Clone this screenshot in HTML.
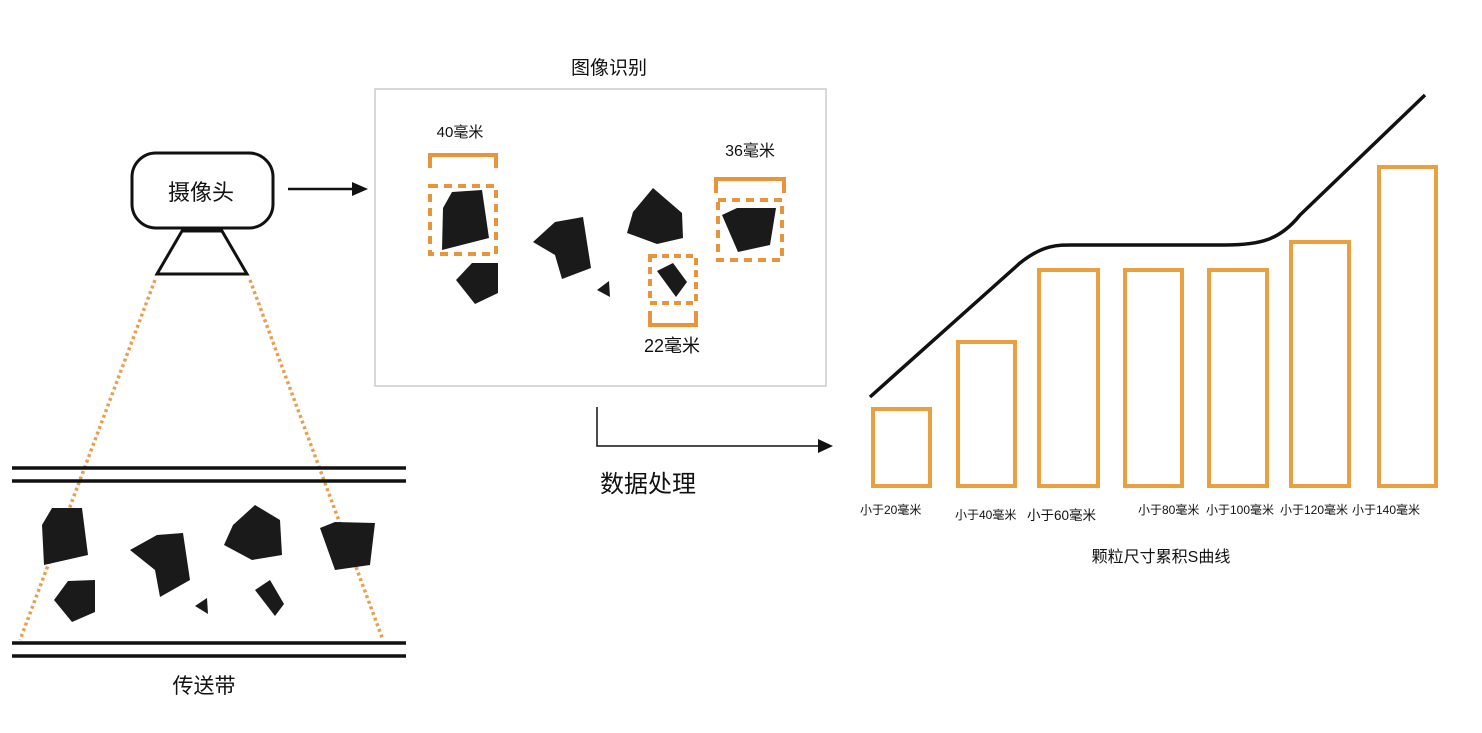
<!DOCTYPE html>
<html><head><meta charset="utf-8"><style>
body{margin:0;background:#fff;}
svg text{font-family:"Liberation Sans","Noto Sans CJK SC",sans-serif;fill:#111;}
</style></head><body>
<svg width="1482" height="728" viewBox="0 0 1482 728" xmlns="http://www.w3.org/2000/svg">
<!-- camera -->
<rect x="132" y="153" width="141" height="75" rx="24" fill="#fff" stroke="#111" stroke-width="3"/>
<text x="201" y="200" font-size="22" text-anchor="middle">摄像头</text>
<polygon points="182,231 222,231 247,274 157,274" fill="#fff" stroke="#111" stroke-width="3"/>
<line x1="288" y1="189" x2="358" y2="189" stroke="#111" stroke-width="2.5"/>
<polygon points="352,182 368,189 352,196" fill="#111"/>
<!-- dotted rays -->
<line x1="155" y1="280" x2="20" y2="640" stroke="#e8a050" stroke-width="3.5" stroke-dasharray="3,3"/>
<line x1="250" y1="280" x2="383" y2="640" stroke="#e8a050" stroke-width="3.5" stroke-dasharray="3,3"/>
<!-- belt -->
<g stroke="#111" stroke-width="3.5">
<line x1="12" y1="468" x2="406" y2="468"/><line x1="12" y1="481" x2="406" y2="481"/>
<line x1="12" y1="643" x2="406" y2="643"/><line x1="12" y1="656" x2="406" y2="656"/>
</g>
<g fill="#1a1a1a">
<polygon points="42,525 52,508 82,508 88,555 44,565"/>
<polygon points="54,600 68,581 95,580 95,612 72,622"/>
<polygon points="130,550 157,535 183,533 190,580 160,597 155,570"/>
<polygon points="224,545 233,525 255,505 280,520 282,555 252,560"/>
<polygon points="320,528 335,522 375,523 370,565 335,570"/>
<polygon points="195,606 207,598 208,614"/>
<polygon points="255,590 270,580 284,604 275,616"/>
</g>
<text x="204" y="693" font-size="21" text-anchor="middle">传送带</text>
<!-- image recognition -->
<text x="609" y="74" font-size="19" text-anchor="middle">图像识别</text>
<rect x="375" y="89" width="451" height="297" fill="#fff" stroke="#ccc" stroke-width="1.5"/>
<text x="460" y="137" font-size="15" text-anchor="middle">40毫米</text>
<path d="M430,168 V155 H496 V168" fill="none" stroke="#e8943a" stroke-width="4"/>
<rect x="430" y="186" width="66" height="68" fill="none" stroke="#e8943a" stroke-width="4" stroke-dasharray="8,6"/>
<text x="750" y="156" font-size="16" text-anchor="middle">36毫米</text>
<path d="M716,193 V179 H784 V193" fill="none" stroke="#e8943a" stroke-width="4"/>
<rect x="718" y="200" width="64" height="60" fill="none" stroke="#e8943a" stroke-width="4" stroke-dasharray="8,6"/>
<rect x="650" y="256" width="46" height="47" fill="none" stroke="#e8943a" stroke-width="4" stroke-dasharray="7,5"/>
<path d="M650,311 V325 H696 V311" fill="none" stroke="#e8943a" stroke-width="4"/>
<text x="672" y="352" font-size="18" text-anchor="middle">22毫米</text>
<g fill="#1a1a1a">
<polygon points="443,208 452,192 482,190 489,238 442,250"/>
<polygon points="456,280 472,263 498,263 498,293 475,304"/>
<polygon points="533,242 555,222 583,217 591,268 562,279 555,255"/>
<polygon points="597,290 609,281 610,297"/>
<polygon points="627,233 633,212 653,188 682,213 683,238 657,244"/>
<polygon points="657,271 673,263 687,282 676,297"/>
<polygon points="722,215 737,208 776,208 770,245 738,252"/>
</g>
<!-- data processing -->
<path d="M597,407 V446 H822" fill="none" stroke="#111" stroke-width="1.5"/>
<polygon points="818,439 833,446 818,453" fill="#111"/>
<text x="648" y="492" font-size="24" text-anchor="middle">数据处理</text>
<!-- bars -->
<g fill="none" stroke="#e8a040" stroke-width="4">
<rect x="873" y="409" width="57" height="77"/>
<rect x="958" y="342" width="57" height="144"/>
<rect x="1039" y="270" width="59" height="216"/>
<rect x="1125" y="270" width="57" height="216"/>
<rect x="1209" y="270" width="58" height="216"/>
<rect x="1291" y="242" width="58" height="244"/>
<rect x="1379" y="167" width="57" height="319"/>
</g>
<path d="M870,397 L1020,263 C1045,243 1060,245 1080,245 L1225,245 C1260,245 1280,240 1300,215 L1425,95" fill="none" stroke="#111" stroke-width="3.5"/>
<g font-size="12">
<text x="860" y="514">小于20毫米</text>
<text x="955" y="519">小于40毫米</text>
<text x="1027" y="520" font-size="13.5">小于60毫米</text>
<text x="1138" y="514">小于80毫米</text>
<text x="1206" y="514">小于100毫米</text>
<text x="1280" y="514">小于120毫米</text>
<text x="1352" y="514">小于140毫米</text>
</g>
<text x="1161" y="562" font-size="16" text-anchor="middle">颗粒尺寸累积S曲线</text>
</svg>
</body></html>
